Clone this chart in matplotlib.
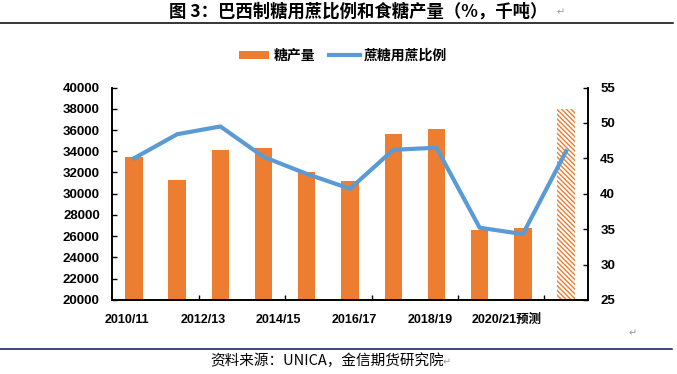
from __future__ import annotations

import matplotlib

matplotlib.use("Agg")
import matplotlib.pyplot as plt
import numpy as np
from matplotlib.lines import Line2D
from matplotlib.patches import Patch


SEASONS = ["2010/11", "2011/12", "2012/13", "2013/14", "2014/15", "2015/16",
           "2016/17", "2017/18", "2018/19", "2019/20", "2020/21"]
SUGAR_OUTPUT = [33460, 31320, 34120, 34280, 32050, 31230, 35630, 36070, 26540, 26760, 38020]
CANE_TO_SUGAR = [45.0, 48.4, 49.5, 45.2, 42.8, 40.7, 46.2, 46.5, 35.2, 34.3, 46.0]
FORECAST = [False] * 10 + [True]

TICK_LABELS = ["2010/11", "2012/13", "2014/15", "2016/17", "2018/19", "2020/21预测"]

TITLE = "图 3：巴西制糖用蔗比例和食糖产量（%，千吨）"
SOURCE = "资料来源：UNICA，金信期货研究院"
BAR_NAME = "糖产量"
LINE_NAME = "蔗糖用蔗比例"

ORANGE = "#ED7D31"
BLUE = "#5B9BD5"
CJK = ["Noto Sans CJK SC", "DejaVu Sans"]
NUM = ["Liberation Sans", "Noto Sans CJK SC", "DejaVu Sans"]


def main() -> None:
    plt.rcParams["hatch.linewidth"] = 1.0
    fig = plt.figure(figsize=(6.77, 3.74), dpi=100)
    ax = fig.add_axes([0.1659, 0.198, 0.7022, 0.568])
    ax2 = ax.twinx()

    x = np.arange(len(SEASONS))
    for xi, val, fc in zip(x, SUGAR_OUTPUT, FORECAST):
        if fc:
            ax.bar(xi, val, width=0.4, facecolor="white", edgecolor=ORANGE,
                   linewidth=0, hatch="\\" * 7)
        else:
            ax.bar(xi, val, width=0.4, color=ORANGE, linewidth=0)
    ax2.plot(x, CANE_TO_SUGAR, color=BLUE, linewidth=3.0, solid_joinstyle="round")

    ax.set_xlim(-0.5, len(SEASONS) - 0.5)
    ax.set_ylim(20000, 40000)
    ax.set_yticks(np.arange(20000, 40001, 2000))
    ax2.set_ylim(25, 55)
    ax2.set_yticks(np.arange(25, 56, 5))

    # category ticks sit between every second pair of bars
    ax.set_xticks(np.arange(1.5, len(SEASONS) - 1, 2))
    ax.set_xticklabels([])
    label_pos = -0.16 + 1.756 * np.arange(len(TICK_LABELS))
    for pos, lab in zip(label_pos, TICK_LABELS):
        ax.text(pos, -0.095, lab, transform=ax.get_xaxis_transform(), ha="center",
                va="center", fontsize=9, fontweight="bold", family=NUM)

    for a in (ax, ax2):
        a.spines["top"].set_visible(False)
        for s in a.spines.values():
            s.set_linewidth(1.2)
        a.tick_params(direction="in", length=3.5, width=1.0, labelsize=9.5)
    ax.tick_params(axis="y", pad=9)
    ax2.tick_params(axis="y", pad=9)
    for lab in ax.get_yticklabels() + ax2.get_yticklabels():
        lab.set_fontweight("bold")
        lab.set_family(NUM)

    handles = [
        Patch(facecolor=ORANGE, edgecolor="none"),
        Line2D([0], [0], color=BLUE, linewidth=3.0),
    ]
    fig.legend(handles, [BAR_NAME, LINE_NAME], loc="center", ncol=2,
               bbox_to_anchor=(343 / 677, 1 - 56 / 374), frameon=False,
               prop={"family": CJK, "size": 10, "weight": "bold"},
               handlelength=2.2, handleheight=0.55, handletextpad=0.3, columnspacing=1.0)

    fig.text(358 / 677, 1 - 12 / 374, TITLE, ha="center", va="center",
             fontsize=12.5, fontweight="bold", family=CJK)
    fig.add_artist(Line2D([0, 673 / 677], [1 - 23 / 374] * 2, color="black",
                          linewidth=1.1, transform=fig.transFigure))
    fig.add_artist(Line2D([0, 672 / 677], [1 - 349 / 374] * 2, color="#10105a",
                          linewidth=1.1, transform=fig.transFigure))
    fig.text(327 / 677, 1 - 361 / 374, SOURCE, ha="center", va="center",
             fontsize=10.5, family=CJK)

    # word paragraph marks left over in the screenshot
    for px, py in [(561, 12), (633, 333), (447, 362)]:
        fig.text(px / 677, 1 - py / 374, "↵", ha="center", va="center",
                 fontsize=7, color="#999999", family="DejaVu Sans")

    fig.savefig("out.png", dpi=100)
    plt.close(fig)


if __name__ == "__main__":
    main()
